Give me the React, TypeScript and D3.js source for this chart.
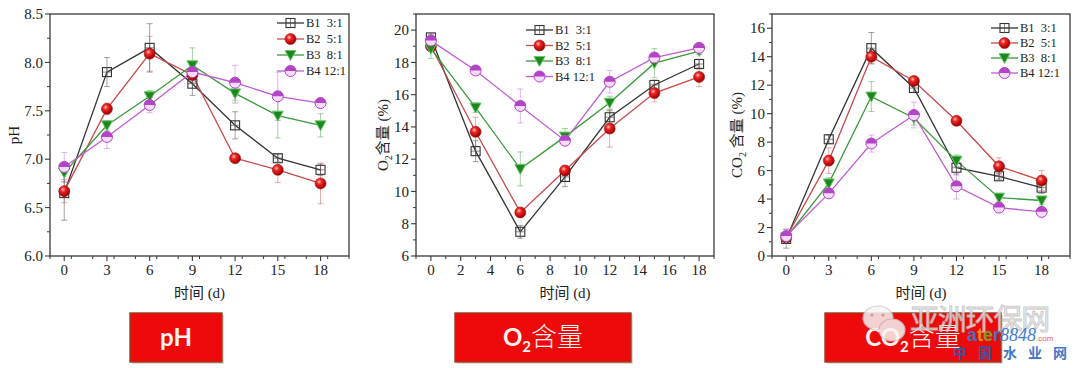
import * as d3 from "d3";
import React from "react";

// ---- data ----
const days = [0, 3, 6, 9, 12, 15, 18];
const seriesNames = ["B1", "B2", "B3", "B4"];
const ratios = ["3:1", "5:1", "8:1", "12:1"];

const phB1 = [6.65, 7.9, 8.15, 7.78, 7.35, 7.01, 6.89];
const phB2 = [6.67, 7.52, 8.09, 7.87, 7.01, 6.89, 6.75];
const phB3 = [6.86, 7.35, 7.65, 7.97, 7.68, 7.45, 7.35];
const phB4 = [6.92, 7.23, 7.56, 7.9, 7.79, 7.65, 7.58];
const phErrB1 = [0.28, 0.15, 0.25, 0.12, 0.14, 0.04, 0.06];
const phErrB2 = [0.12, 0.06, 0.18, 0.05, 0.03, 0.13, 0.21];
const phErrB3 = [0.1, 0.05, 0.06, 0.18, 0.1, 0.23, 0.12];
const phErrB4 = [0.15, 0.12, 0.08, 0.1, 0.18, 0.25, 0.05];

const o2B1 = [19.55, 12.5, 7.5, 10.9, 14.6, 16.6, 17.9];
const o2B2 = [19.0, 13.7, 8.7, 11.3, 13.9, 16.1, 17.1];
const o2B3 = [18.85, 15.2, 11.4, 13.4, 15.5, 17.95, 18.7];
const o2B4 = [19.35, 17.5, 15.3, 13.15, 16.8, 18.3, 18.9];
const o2ErrB1 = [0.2, 0.65, 0.4, 0.6, 0.4, 0.3, 0.3];
const o2ErrB2 = [0.3, 0.9, 0.3, 0.3, 1.15, 0.55, 0.6];
const o2ErrB3 = [0.6, 0.3, 1.05, 0.5, 0.4, 0.9, 0.2];
const o2ErrB4 = [0.2, 0.15, 1.05, 0.2, 0.7, 0.2, 0.15];

const co2B1 = [1.2, 8.2, 14.6, 11.8, 6.2, 5.6, 4.8];
const co2B2 = [1.3, 6.7, 14.0, 12.3, 9.5, 6.3, 5.3];
const co2B3 = [1.3, 5.1, 11.2, 9.7, 6.7, 4.1, 3.9];
const co2B4 = [1.4, 4.4, 7.9, 9.9, 4.9, 3.4, 3.1];
const co2ErrB1 = [0.65, 0.3, 1.1, 0.3, 0.5, 0.2, 0.4];
const co2ErrB2 = [0.3, 0.9, 0.5, 0.3, 0.2, 0.6, 0.7];
const co2ErrB3 = [0.3, 0.4, 1.05, 0.5, 0.4, 0.3, 0.3];
const co2ErrB4 = [0.5, 0.3, 0.6, 0.9, 0.9, 0.3, 0.2];

const phTicks = [6.0, 6.5, 7.0, 7.5, 8.0, 8.5];
const o2Ticks = [6, 8, 10, 12, 14, 16, 18, 20];
const co2Ticks = [0, 2, 4, 6, 8, 10, 12, 14, 16];
const dayTicks3 = [0, 3, 6, 9, 12, 15, 18];
const dayTicks2 = [0, 2, 4, 6, 8, 10, 12, 14, 16, 18];

const lineColors = ["#333333", "#c84a4a", "#3a9a3a", "#c05ad2"];
const serif = "'Liberation Serif', 'Noto Sans CJK SC', serif";

function Marker({ kind, x, y }) {
  if (kind === 0) {
    return (
      <g>
        <rect x={x - 4.5} y={y - 4.5} width={9} height={9} fill="none" stroke="#333" strokeWidth={1.1} />
        <line x1={x - 4.5} x2={x + 4.5} y1={y} y2={y} stroke="#555" strokeWidth={0.7} />
        <line x1={x} x2={x} y1={y - 4.5} y2={y + 4.5} stroke="#555" strokeWidth={0.7} />
      </g>
    );
  }
  if (kind === 1) {
    return <circle cx={x} cy={y} r={5.5} fill="url(#redBall)" stroke="#a01010" strokeWidth={0.6} />;
  }
  if (kind === 2) {
    return (
      <path
        d={`M${x - 5.5},${y - 4.5} L${x + 5.5},${y - 4.5} L${x},${y + 5.5} Z`}
        fill="#1e861e"
        stroke="#66cc66"
        strokeWidth={1}
      />
    );
  }
  return (
    <g>
      <circle cx={x} cy={y} r={5.5} fill="#f6dcfa" stroke="#b244c6" strokeWidth={1} />
      <path d={`M${x - 5.5},${y} A5.5,5.5 0 0 1 ${x + 5.5},${y} Z`} fill="#b244c6" />
    </g>
  );
}

function Panel({ cfg }) {
  const { left, right, top, bottom } = cfg;
  const x = d3.scaleLinear().domain(cfg.xDomain).range([left, right]);
  const y = d3.scaleLinear().domain(cfg.yDomain).range([bottom, top]);
  const line = d3
    .line<number>()
    .x((_, i) => x(days[i]))
    .y((d) => y(d));
  const xMinor = d3.range(cfg.xDomain[0], cfg.xDomain[1] + 0.001, cfg.xMinorStep).filter(
    (v) => v >= cfg.xDomain[0] && !cfg.xTicks.some((t) => Math.abs(t - v) < 1e-6)
  );
  const yMinor = d3.range(cfg.yDomain[0], cfg.yDomain[1] + 0.001, cfg.yMinorStep).filter(
    (v) => !cfg.yTicks.some((t) => Math.abs(t - v) < 1e-6)
  );
  const fmt = d3.format(cfg.fmt);
  const axisColor = "#3a3a3a";

  return (
    <g>
      <rect x={left} y={top} width={right - left} height={bottom - top} fill="none" stroke={axisColor} strokeWidth={1.3} />
      {cfg.xTicks.map((t) => (
        <g key={"xt" + t}>
          <line x1={x(t)} x2={x(t)} y1={bottom} y2={bottom + 5} stroke={axisColor} strokeWidth={1.1} />
          <text x={x(t)} y={bottom + 19} textAnchor="middle" fontFamily={serif} fontSize={15} fill="#222">
            {t}
          </text>
        </g>
      ))}
      {xMinor.map((t) => (
        <line key={"xm" + t} x1={x(t)} x2={x(t)} y1={bottom} y2={bottom + 3} stroke={axisColor} strokeWidth={1} />
      ))}
      {cfg.yTicks.map((t) => (
        <g key={"yt" + t}>
          <line x1={left - 5} x2={left} y1={y(t)} y2={y(t)} stroke={axisColor} strokeWidth={1.1} />
          <text x={left - 7} y={y(t)} dy="0.35em" textAnchor="end" fontFamily={serif} fontSize={15} fill="#222">
            {fmt(t)}
          </text>
        </g>
      ))}
      {yMinor.map((t) => (
        <line key={"ym" + t} x1={left - 3} x2={left} y1={y(t)} y2={y(t)} stroke={axisColor} strokeWidth={1} />
      ))}
      <text
        transform={`translate(${cfg.yLabelX},${(top + bottom) / 2}) rotate(-90)`}
        textAnchor="middle"
        fontFamily={serif}
        fontSize={15}
        fill="#222"
      >
        {cfg.yLabel}
      </text>
      <text x={(left + right) / 2} y={bottom + 42} textAnchor="middle" fontFamily={serif} fontSize={15} fill="#222">
        时间 (d)
      </text>

      {/* error bars */}
      {cfg.series.map((s, si) =>
        s.map((v, i) => {
          const e = cfg.errors[si][i];
          const cx = x(days[i]);
          return (
            <g key={`e${si}-${i}`} stroke={lineColors[si]} strokeOpacity={0.45} strokeWidth={1}>
              <line x1={cx} x2={cx} y1={y(v - e)} y2={y(v + e)} />
              <line x1={cx - 3} x2={cx + 3} y1={y(v - e)} y2={y(v - e)} />
              <line x1={cx - 3} x2={cx + 3} y1={y(v + e)} y2={y(v + e)} />
            </g>
          );
        })
      )}
      {cfg.series.map((s, si) => (
        <path key={"l" + si} d={line(s) || ""} fill="none" stroke={lineColors[si]} strokeWidth={1.3} />
      ))}
      {cfg.series.map((s, si) =>
        s.map((v, i) => <Marker key={`m${si}-${i}`} kind={si} x={x(days[i])} y={y(v)} />)
      )}

      {/* legend */}
      {seriesNames.map((n, i) => {
        const ly = cfg.legendY + i * cfg.legendDy;
        const label = n + (ratios[i].length > 3 ? " " : "  ") + ratios[i];
        return (
          <g key={"lg" + n}>
            <line x1={cfg.legendX} x2={cfg.legendX + 27} y1={ly} y2={ly} stroke={lineColors[i]} strokeWidth={1.3} />
            <Marker kind={i} x={cfg.legendX + 13.5} y={ly} />
            <text
              x={cfg.legendX + 29}
              y={ly}
              dy="0.35em"
              fontFamily={serif}
              fontSize={12.5}
              fill="#222"
              style={{ whiteSpace: "pre" }}
            >
              {label}
            </text>
          </g>
        );
      })}
    </g>
  );
}

function RedBox({ x0, x1, children }) {
  return (
    <g>
      <rect x={x0 + 2} y={315} width={x1 - x0} height={49} fill="#d9c9c0" opacity={0.7} />
      <rect x={x0} y={313} width={x1 - x0} height={49} fill="#ee0a0a" stroke="#9b3b22" strokeWidth={1.4} />
      <text x={(x0 + x1) / 2} y={346} textAnchor="middle" fill="#fff2f2" fontFamily="Lato, 'Noto Sans CJK SC', sans-serif">
        {children}
      </text>
    </g>
  );
}

const markChars = ["中", "国", "水", "业", "网"];

export default function App() {
  const panels = [
    {
      left: 50, right: 349, top: 14, bottom: 256,
      xDomain: [-1, 20], xTicks: dayTicks3, xMinorStep: 1.5,
      yDomain: [6, 8.5], yTicks: phTicks, yMinorStep: 0.25, fmt: ".1f",
      yLabel: <tspan>pH</tspan>, yLabelX: 19,
      series: [phB1, phB2, phB3, phB4], errors: [phErrB1, phErrB2, phErrB3, phErrB4],
      legendX: 277, legendY: 23, legendDy: 16,
    },
    {
      left: 416, right: 714, top: 14, bottom: 256,
      xDomain: [-1, 19], xTicks: dayTicks2, xMinorStep: 1,
      yDomain: [6, 21], yTicks: o2Ticks, yMinorStep: 1, fmt: "d",
      yLabel: (
        <>
          <tspan>O</tspan>
          <tspan fontSize={10} dy={4}>2</tspan>
          <tspan dy={-4}>含量 (%)</tspan>
        </>
      ),
      yLabelX: 388,
      series: [o2B1, o2B2, o2B3, o2B4], errors: [o2ErrB1, o2ErrB2, o2ErrB3, o2ErrB4],
      legendX: 526, legendY: 30, legendDy: 15.5,
    },
    {
      left: 772, right: 1070, top: 14, bottom: 256,
      xDomain: [-1, 20], xTicks: dayTicks3, xMinorStep: 1.5,
      yDomain: [0, 17], yTicks: co2Ticks, yMinorStep: 1, fmt: "d",
      yLabel: (
        <>
          <tspan>CO</tspan>
          <tspan fontSize={10} dy={4}>2</tspan>
          <tspan dy={-4}> 含量 (%)</tspan>
        </>
      ),
      yLabelX: 742,
      series: [co2B1, co2B2, co2B3, co2B4], errors: [co2ErrB1, co2ErrB2, co2ErrB3, co2ErrB4],
      legendX: 991, legendY: 28, legendDy: 15,
    },
  ];

  return (
    <svg width={1080} height={368} style={{ position: "absolute", left: 0, top: 0, background: "#fff" }}>
      <defs>
        <radialGradient id="redBall" cx="38%" cy="35%" r="65%">
          <stop offset="0%" stopColor="#ffc0c0" />
          <stop offset="35%" stopColor="#f02424" />
          <stop offset="100%" stopColor="#9a0000" />
        </radialGradient>
      </defs>
      <rect x={0} y={0} width={1080} height={368} fill="#fff" />
      {panels.map((p, i) => (
        <Panel key={i} cfg={p} />
      ))}

      <RedBox x0={130} x1={222}>
        <tspan fontSize={24} fontWeight="bold">pH</tspan>
      </RedBox>
      <RedBox x0={455} x1={631}>
        <tspan fontSize={24} fontWeight="bold">O</tspan>
        <tspan fontSize={15} fontWeight="bold" dy={6}>2</tspan>
        <tspan fontSize={26} dy={-6} fontFamily="'Noto Sans CJK SC'" fontWeight={300}>含量</tspan>
      </RedBox>
      <RedBox x0={825} x1={1001}>
        <tspan fontSize={24} fontWeight="bold">CO</tspan>
        <tspan fontSize={15} fontWeight="bold" dy={6}>2</tspan>
        <tspan fontSize={26} dy={-6} fontFamily="'Noto Sans CJK SC'" fontWeight={300}>含量</tspan>
      </RedBox>

      {/* watermark */}
      <g opacity={0.85}>
        <ellipse cx={878} cy={318} rx={15} ry={12} fill="#f4f4f4" stroke="#cfcfcf" strokeWidth={1.2} />
        <ellipse cx={892} cy={330} rx={13} ry={11} fill="#f4f4f4" stroke="#cfcfcf" strokeWidth={1.2} />
        <circle cx={872} cy={315} r={1.6} fill="#bbb" />
        <circle cx={883} cy={315} r={1.6} fill="#bbb" />
        <text x={910} y={330} fontFamily="'Noto Sans CJK SC'" fontSize={29} fill="#e6e6e6" stroke="#bdbdbd" strokeWidth={0.8} letterSpacing={-1.2}>
          亚洲环保网
        </text>
        <text x={967} y={341} fontFamily="Arial, 'Liberation Sans'" fontSize={18} fontWeight="bold">
          <tspan fill="#2f7fd8">a</tspan>
          <tspan fill="#f0a020">t</tspan>
          <tspan fill="#6ab82e">e</tspan>
          <tspan fill="#2f7fd8">r</tspan>
          <tspan fill="#2266cc" fontStyle="italic" fontWeight="normal" fontFamily="'Liberation Serif'">8848</tspan>
          <tspan fill="#e04040" fontSize={8} fontWeight="normal">.com</tspan>
        </text>
        {markChars.map((c, i) => (
          <text key={c} x={953 + i * 25} y={358} fontFamily="'Noto Sans CJK SC'" fontSize={14} fontWeight="bold" fill="#1f5fbf">
            {c}
          </text>
        ))}
      </g>
    </svg>
  );
}
